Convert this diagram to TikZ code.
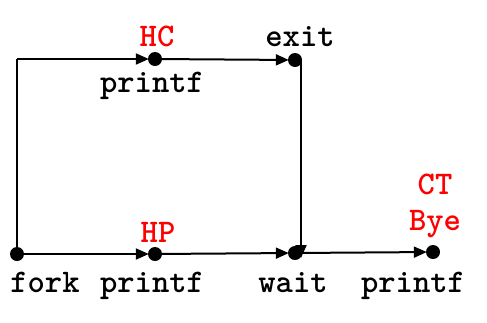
\documentclass[tikz,border=0pt]{standalone}
\usetikzlibrary{arrows.meta}
\begin{document}
\begin{tikzpicture}[x=1pt,y=-1pt,
  ev/.style={circle,fill=black,inner sep=0pt,minimum size=14pt},
  flow/.style={line width=2pt,-{Triangle[length=13pt,width=11pt]},shorten >=-1pt},
  lbl/.style={font=\fontsize{33}{35}\selectfont\ttfamily\bfseries,inner sep=0pt,anchor=base},
  red lbl/.style={lbl,text={rgb,255:red,255;green,0;blue,0}}]
\useasboundingbox (0,0) rectangle (487,322);
% events
\node[ev] (fork) at (17,254) {};
\node[ev] (hc) at (155,59) {};
\node[ev] (exit) at (295,60) {};
\node[ev] (hp) at (155,254) {};
\node[ev] (wait) at (295,253) {};
\node[ev] (ct) at (433,252) {};
\coordinate (corner) at (17,59);
\coordinate (drop) at (301,60);
\coordinate (land) at (301,253);
% connectors
\draw[line width=2pt] (fork.center) -- (corner);
\draw[flow] (corner) -- (hc);
\draw[flow] (hc) -- (exit);
\draw[flow,shorten >=0pt] (drop) -- ([yshift=-5pt]land);
\draw[flow] (fork) -- (hp);
\draw[flow] (hp) -- (wait);
\draw[flow] (wait) -- (ct);
% labels
\node[red lbl] (hcl) at (157,46) {HC};
\node[lbl] (pc) at (152,92) {printf};
\node[lbl] (exl) at (300,46) {exit};
\node[red lbl] (hpl) at (158,242) {HP};
\node[lbl] (fkl) at (45,292) {fork};
\node[lbl] (pp) at (152,292) {printf};
\node[lbl] (wtl) at (293,292) {wait};
\node[lbl] (pt) at (413,292) {printf};
\node[red lbl] (ctl) at (435,194) {CT};
\node[red lbl] (byl) at (435,230) {Bye};
\end{tikzpicture}
\end{document}
